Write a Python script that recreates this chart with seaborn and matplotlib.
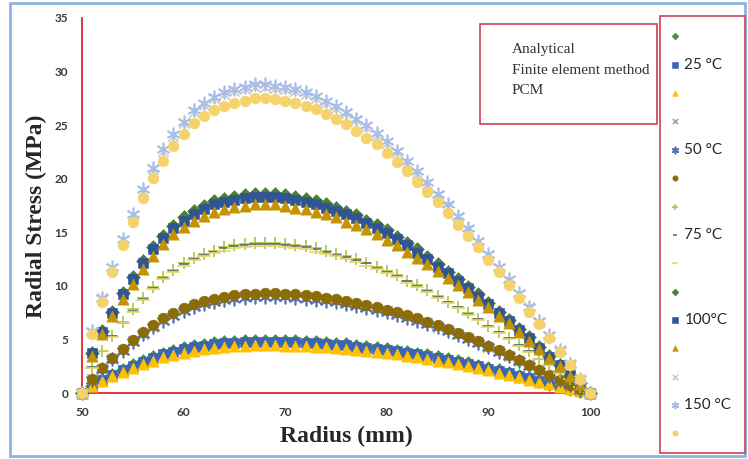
import numpy as np
import pandas as pd
import matplotlib
matplotlib.use("Agg")
import matplotlib.pyplot as plt
from matplotlib.patches import Rectangle
import seaborn as sns

# =====================================
# DATA
# =====================================

RADIUS = list(range(50, 101))

# 25 °C
A25 = [0, 0.69, 1.23, 1.72, 2.16, 2.60, 2.99, 3.33, 3.68, 3.92, 4.17, 4.36, 4.51, 4.63, 4.73, 4.80, 4.85,
       4.89, 4.90, 4.90, 4.88, 4.85, 4.80, 4.75, 4.68, 4.61, 4.53, 4.43, 4.33, 4.22, 4.10, 3.96, 3.82,
       3.67, 3.51, 3.34, 3.16, 2.96, 2.76, 2.55, 2.33, 2.11, 1.87, 1.63, 1.39, 1.14, 0.88, 0.64, 0.39, 0.17, 0]
F25 = [0, 0.67, 1.20, 1.68, 2.11, 2.54, 2.93, 3.26, 3.60, 3.84, 4.08, 4.27, 4.42, 4.54, 4.63, 4.70, 4.75,
       4.79, 4.80, 4.80, 4.78, 4.75, 4.70, 4.65, 4.59, 4.52, 4.44, 4.34, 4.24, 4.13, 4.01, 3.88, 3.74,
       3.60, 3.44, 3.27, 3.09, 2.90, 2.71, 2.50, 2.28, 2.06, 1.83, 1.60, 1.36, 1.11, 0.86, 0.62, 0.38, 0.17, 0]
P25 = [0, 0.62, 1.11, 1.56, 1.96, 2.36, 2.71, 3.03, 3.34, 3.56, 3.78, 3.96, 4.09, 4.21, 4.29, 4.36, 4.41,
       4.44, 4.45, 4.45, 4.43, 4.40, 4.36, 4.31, 4.25, 4.19, 4.11, 4.03, 3.93, 3.83, 3.72, 3.60, 3.47,
       3.33, 3.19, 3.03, 2.87, 2.69, 2.51, 2.32, 2.12, 1.91, 1.70, 1.48, 1.26, 1.03, 0.80, 0.58, 0.36, 0.16, 0]

# 50 °C
A50 = [0, 1.27, 2.28, 3.19, 4.00, 4.82, 5.55, 6.19, 6.83, 7.28, 7.74, 8.10, 8.37, 8.60, 8.78, 8.92, 9.01,
       9.07, 9.10, 9.09, 9.05, 9.00, 8.92, 8.82, 8.70, 8.56, 8.41, 8.24, 8.04, 7.84, 7.61, 7.36, 7.10,
       6.82, 6.52, 6.20, 5.86, 5.51, 5.13, 4.74, 4.33, 3.91, 3.48, 3.03, 2.58, 2.11, 1.64, 1.18, 0.73, 0.32, 0]
F50 = [0, 1.26, 2.25, 3.15, 3.96, 4.77, 5.49, 6.12, 6.75, 7.20, 7.65, 8.01, 8.28, 8.51, 8.69, 8.82, 8.91,
       8.97, 9.00, 8.99, 8.96, 8.90, 8.82, 8.72, 8.60, 8.47, 8.32, 8.15, 7.96, 7.75, 7.52, 7.28, 7.02,
       6.74, 6.44, 6.13, 5.80, 5.45, 5.08, 4.69, 4.28, 3.87, 3.44, 3.00, 2.55, 2.09, 1.62, 1.17, 0.72, 0.32, 0]
P50 = [0, 1.30, 2.33, 3.26, 4.09, 4.93, 5.67, 6.32, 6.98, 7.44, 7.91, 8.28, 8.56, 8.79, 8.97, 9.11, 9.21,
       9.27, 9.30, 9.29, 9.25, 9.20, 9.11, 9.01, 8.89, 8.75, 8.59, 8.42, 8.22, 8.01, 7.77, 7.52, 7.25,
       6.97, 6.66, 6.33, 5.99, 5.63, 5.25, 4.85, 4.43, 4.00, 3.55, 3.10, 2.63, 2.16, 1.67, 1.21, 0.74, 0.33, 0]

# 75 °C
A75 = [0, 2.4, 3.9, 5.3, 6.6, 7.8, 8.9, 9.9, 10.8, 11.5, 12.1, 12.6, 13.0, 13.3, 13.6, 13.8, 13.9,
       14.0, 14.0, 14.0, 13.9, 13.8, 13.7, 13.5, 13.3, 13.0, 12.8, 12.5, 12.1, 11.8, 11.4, 11.0, 10.5,
       10.1, 9.6, 9.1, 8.5, 8.0, 7.5, 6.9, 6.3, 5.7, 5.1, 4.5, 3.9, 3.2, 2.6, 2.0, 1.3, 0.6, 0]
F75 = [0, 2.4, 3.9, 5.3, 6.5, 7.7, 8.8, 9.8, 10.7, 11.4, 12.0, 12.5, 12.9, 13.2, 13.5, 13.7, 13.8,
       13.9, 13.9, 13.9, 13.8, 13.7, 13.6, 13.4, 13.2, 12.9, 12.7, 12.4, 12.1, 11.7, 11.3, 10.9, 10.5,
       10.0, 9.5, 9.0, 8.5, 8.0, 7.4, 6.9, 6.3, 5.7, 5.1, 4.5, 3.9, 3.2, 2.6, 1.9, 1.3, 0.6, 0]
P75 = [0, 2.3, 3.9, 5.2, 6.5, 7.6, 8.7, 9.7, 10.6, 11.3, 11.9, 12.4, 12.8, 13.1, 13.3, 13.5, 13.6,
       13.7, 13.75, 13.7, 13.65, 13.55, 13.4, 13.2, 13.0, 12.8, 12.5, 12.2, 11.9, 11.6, 11.2, 10.8, 10.3,
       9.9, 9.4, 8.9, 8.4, 7.9, 7.3, 6.8, 6.2, 5.6, 5.0, 4.4, 3.8, 3.2, 2.6, 1.9, 1.3, 0.6, 0]

# 100 °C
A100 = [0, 3.7, 5.8, 7.6, 9.3, 10.8, 12.3, 13.6, 14.7, 15.6, 16.4, 17.0, 17.5, 17.9, 18.1, 18.3, 18.5,
        18.6, 18.6, 18.6, 18.5, 18.3, 18.1, 17.9, 17.6, 17.3, 16.9, 16.6, 16.1, 15.7, 15.2, 14.6, 14.0,
        13.4, 12.7, 12.0, 11.3, 10.6, 9.9, 9.2, 8.4, 7.6, 6.8, 6.0, 5.2, 4.3, 3.5, 2.6, 1.7, 0.9, 0]
F100 = [0, 3.7, 5.7, 7.5, 9.2, 10.6, 12.1, 13.4, 14.5, 15.4, 16.1, 16.7, 17.2, 17.6, 17.8, 18.0, 18.2,
        18.3, 18.3, 18.3, 18.2, 18.0, 17.8, 17.6, 17.3, 17.0, 16.7, 16.3, 15.9, 15.4, 14.9, 14.4, 13.8,
        13.1, 12.5, 11.8, 11.2, 10.5, 9.8, 9.0, 8.3, 7.5, 6.7, 5.9, 5.1, 4.2, 3.4, 2.6, 1.7, 0.8, 0]
P100 = [0, 3.5, 5.5, 7.2, 8.8, 10.2, 11.6, 12.8, 13.9, 14.8, 15.5, 16.1, 16.5, 16.9, 17.2, 17.4, 17.5,
        17.6, 17.6, 17.6, 17.5, 17.3, 17.2, 16.9, 16.7, 16.4, 16.0, 15.7, 15.3, 14.8, 14.3, 13.8, 13.2,
        12.6, 12.0, 11.4, 10.7, 10.1, 9.4, 8.7, 8.0, 7.2, 6.5, 5.7, 4.9, 4.1, 3.3, 2.5, 1.6, 0.8, 0]

# 150 °C
A150 = [0, 5.7, 8.9, 11.7, 14.3, 16.6, 18.9, 20.9, 22.6, 24.0, 25.2, 26.2, 26.9, 27.5, 27.9, 28.2, 28.4,
        28.6, 28.6, 28.5, 28.4, 28.2, 27.9, 27.5, 27.1, 26.6, 26.1, 25.5, 24.8, 24.1, 23.3, 22.5, 21.5,
        20.5, 19.5, 18.5, 17.4, 16.4, 15.2, 14.1, 12.9, 11.7, 10.5, 9.2, 8.0, 6.6, 5.3, 4.0, 2.7, 1.3, 0]
F150 = [0, 5.8, 8.9, 11.8, 14.4, 16.7, 19.0, 21.0, 22.8, 24.2, 25.3, 26.4, 27.1, 27.6, 28.1, 28.4, 28.6,
        28.8, 28.8, 28.7, 28.6, 28.4, 28.1, 27.7, 27.3, 26.8, 26.2, 25.6, 25.0, 24.3, 23.5, 22.6, 21.7,
        20.7, 19.7, 18.6, 17.6, 16.5, 15.4, 14.2, 13.0, 11.8, 10.6, 9.3, 8.0, 6.7, 5.4, 4.0, 2.7, 1.3, 0]
P150 = [0, 5.5, 8.5, 11.3, 13.8, 16.0, 18.2, 20.1, 21.7, 23.1, 24.2, 25.2, 25.9, 26.4, 26.8, 27.1, 27.3,
        27.5, 27.5, 27.4, 27.3, 27.1, 26.8, 26.5, 26.0, 25.6, 25.1, 24.5, 23.8, 23.2, 22.4, 21.6, 20.7,
        19.7, 18.8, 17.8, 16.8, 15.7, 14.7, 13.6, 12.4, 11.3, 10.1, 8.9, 7.6, 6.4, 5.1, 3.8, 2.6, 1.3, 0]

TEMPERATURES = ["25 °C", "50 °C", "75 °C", "100°C", "150 °C"]
METHODS = ["Analytical", "Finite element method", "PCM"]
SERIES = [A25, F25, P25, A50, F50, P50, A75, F75, P75, A100, F100, P100, A150, F150, P150]

# =====================================
# STYLE (one entry per series, Excel order)
# =====================================

ASTER = (6, 2, 0)
STYLES = [
    ("D", "#4E8F3A", 50), ("s", "#3A64B4", 52), ("^", "#FFC000", 66),
    ("x", "#A5A5A5", 55), (ASTER, "#5573BA", 80), ("o", "#8C6C06", 60),
    ("+", "#A8C44A", 75), ("_", "#6B6B6B", 50), ("_", "#E3D86A", 100),
    ("D", "#4F7F35", 50), ("s", "#2F5597", 52), ("^", "#C39300", 66),
    ("x", "#C9C9C9", 55), (ASTER, "#A9BEE6", 80), ("o", "#F6D26A", 60),
]
FILLED = ("D", "s", "^", "o")

RED = "#E0262E"
BOX_RED = "#CC4055"

# =====================================
# TABLE
# =====================================

rows = []
for idx, values in enumerate(SERIES):
    temp = TEMPERATURES[idx // 3]
    method = METHODS[idx % 3]
    for r, v in zip(RADIUS, values):
        rows.append({"series": idx, "temperature": temp, "method": method,
                     "radius": r, "stress": v})
df = pd.DataFrame(rows)

# =====================================
# PLOT
# =====================================

sns.set_style("white")

fig = plt.figure(figsize=(7.48, 4.59), dpi=100)
ax = fig.add_axes([82 / 748, 1 - 393 / 459, 508 / 748, 375 / 459])

for idx in range(len(SERIES)):
    marker, color, size = STYLES[idx]
    sub = df[df["series"] == idx]
    filled = marker in FILLED
    sns.scatterplot(
        data=sub, x="radius", y="stress", ax=ax,
        marker=marker, color=color, s=size,
        edgecolor=color, linewidth=0.4 if filled else 1.2,
        clip_on=False, legend=False, zorder=3,
    )

ax.set_xlim(50, 100)
ax.set_ylim(0, 35)
ax.set_xticks([50, 60, 70, 80, 90, 100])
ax.set_yticks([0, 5, 10, 15, 20, 25, 30, 35])

for side in ["top", "right"]:
    ax.spines[side].set_visible(False)
for side in ["left", "bottom"]:
    ax.spines[side].set_color(RED)
    ax.spines[side].set_linewidth(1.3)

ax.tick_params(length=0, pad=10, labelsize=8.5, labelcolor="#3A3A3A")
for lab in ax.get_xticklabels() + ax.get_yticklabels():
    lab.set_fontweight("bold")
    lab.set_fontfamily("Lato")

ax.set_xlabel("Radius (mm)", fontfamily="Liberation Serif", fontweight="bold",
              fontsize=17, color="#262626")
ax.set_ylabel("Radial Stress (MPa)", fontfamily="Liberation Serif", fontweight="bold",
              fontsize=17, color="#262626")
ax.xaxis.set_label_coords((346 - 82) / 508, (393 - 426) / 375)
ax.yaxis.set_label_coords((47 - 82) / 508, (393 - 216) / 375)

# -----------------------------
# Method box
# -----------------------------

fig.add_artist(Rectangle((480 / 748, 1 - 124 / 459), 177 / 748, 100 / 459,
                         transform=fig.transFigure, fill=False,
                         edgecolor=BOX_RED, linewidth=1.2))
for i, name in enumerate(METHODS):
    fig.text(512 / 748, 1 - (50 + 20.5 * i) / 459, name, fontfamily="Liberation Serif",
             fontsize=11, color="#333333", va="center", ha="left")

# -----------------------------
# Temperature legend
# -----------------------------

handles = ax.collections[:len(SERIES)]
labels = []
for idx in range(len(SERIES)):
    labels.append(TEMPERATURES[idx // 3] if idx % 3 == 1 else "")

leg = fig.legend(
    handles, labels,
    loc="upper left",
    bbox_to_anchor=(660 / 748, 1 - 21 / 459, 85 / 748, 0.01),
    mode="expand", ncols=1,
    prop={"family": "Lato", "size": 11},
    labelcolor="#262626",
    frameon=True, fancybox=False, framealpha=1,
    edgecolor=BOX_RED, borderpad=0.85, labelspacing=0.94,
    handlelength=0.2, handletextpad=0.55, markerscale=0.5,
    borderaxespad=0,
)
leg.get_frame().set_linewidth(1.2)

# -----------------------------
# Outer border
# -----------------------------

fig.add_artist(Rectangle((10 / 748, 1 - 456 / 459), 735 / 748, 453 / 459,
                         transform=fig.transFigure, fill=False,
                         edgecolor="#8DB4E2", linewidth=2))

fig.savefig("out.png", dpi=100)
